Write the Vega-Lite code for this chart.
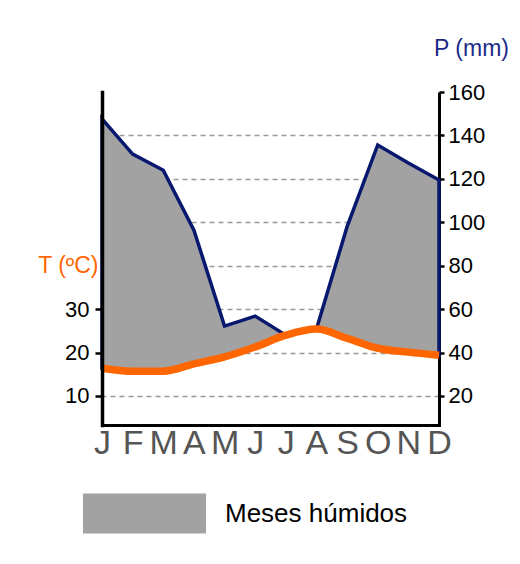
{
  "$schema": "https://vega.github.io/schema/vega-lite/v6.json",
  "width": 337,
  "height": 333,
  "autosize": {"type": "none"},
  "padding": {"left": 102, "top": 92, "right": 81, "bottom": 139},
  "background": "white",
  "config": {"view": {"stroke": null}, "font": "Liberation Sans"},
  "data": {
    "values": [
      {"mes": "Jan", "P": 147.6, "T": 16.4},
      {"mes": "Feb", "P": 131.4, "T": 15.7},
      {"mes": "Mar", "P": 124.0, "T": 15.7},
      {"mes": "Apr", "P": 96.4, "T": 17.4},
      {"mes": "May", "P": 52.2, "T": 19.0},
      {"mes": "Jun", "P": 56.8, "T": 21.3},
      {"mes": "Jul", "P": 40.0, "T": 24.0},
      {"mes": "Aug", "P": 48.0, "T": 25.4},
      {"mes": "Sep", "P": 98.0, "T": 23.3},
      {"mes": "Oct", "P": 135.6, "T": 21.0},
      {"mes": "Nov", "P": 127.3, "T": 20.1},
      {"mes": "Dec", "P": 119.5, "T": 19.4}
    ]
  },
  "transform": [
    {"calculate": "datum.T * 2", "as": "T2"},
    {"calculate": "max(datum.P, datum.T * 2)", "as": "Ph"}
  ],
  "encoding": {
    "x": {
      "field": "mes",
      "type": "ordinal",
      "sort": ["Jan", "Feb", "Mar", "Apr", "May", "Jun", "Jul", "Aug", "Sep", "Oct", "Nov", "Dec"],
      "scale": {"type": "point", "padding": 0},
      "axis": {
        "title": null,
        "labelExpr": "slice(datum.value, 0, 1)",
        "labelAngle": 0,
        "labelOverlap": false,
        "ticks": false,
        "domainColor": "black",
        "domainWidth": 3,
        "domainCap": "square",
        "labelFont": "Liberation Sans",
        "labelFontSize": 34,
        "labelColor": "#555555",
        "labelPadding": 1,
        "zindex": 1
      }
    }
  },
  "layer": [
    {
      "mark": {"type": "area", "stroke": "#08186e", "strokeWidth": 3.5},
      "encoding": {
        "y": {
          "field": "Ph",
          "type": "quantitative",
          "scale": {"domain": [6.64, 160], "nice": false, "zero": false},
          "axis": {
            "orient": "right",
            "values": [20, 40, 60, 80, 100, 120, 140, 160],
            "grid": true,
            "gridDash": [5, 4],
            "gridColor": "#999999",
            "gridWidth": 1.5,
            "gridOpacity": {"condition": {"test": "datum.value == 160", "value": 0}, "value": 1},
            "domainColor": "black",
            "domainWidth": 3,
            "tickColor": "black",
            "tickWidth": 2.5,
            "tickSize": 5,
            "labelFontSize": 22,
            "labelColor": "black",
            "labelPadding": 4,
            "title": "P (mm)",
            "titleColor": "#1a2b87",
            "titleFontSize": 23,
            "titleFontWeight": "normal",
            "titleAngle": 0,
            "titleX": 32,
            "titleY": -44,
            "titleAlign": "center",
            "titleBaseline": "middle",
            "zindex": 0
          }
        },
        "y2": {"field": "T2"},
        "fill": {
          "datum": "Meses húmidos",
          "type": "nominal",
          "scale": {"range": ["#a2a2a2"]},
          "legend": {
            "orient": "none",
            "legendX": -19,
            "legendY": 360,
            "title": null,
            "symbolType": "M-1,-0.325H1V0.325H-1Z",
            "symbolSize": 15129,
            "symbolStrokeWidth": 0,
            "symbolOpacity": 1,
            "labelFont": "Liberation Sans",
            "labelFontSize": 26,
            "labelLimit": 0,
            "labelColor": "black",
            "labelOffset": 19,
            "padding": 0
          }
        }
      }
    },
    {
      "mark": {"type": "line", "color": "#ff6600", "strokeWidth": 7.5, "interpolate": "monotone"},
      "encoding": {
        "y": {
          "field": "T",
          "type": "quantitative",
          "scale": {"domain": [3.32, 80], "nice": false, "zero": false},
          "axis": {
            "orient": "left",
            "values": [10, 20, 30],
            "grid": false,
            "domainColor": "black",
            "domainWidth": 3.5,
            "domainCap": "square",
            "tickColor": "black",
            "tickWidth": 2.5,
            "tickSize": 7,
            "labelFontSize": 22,
            "labelColor": "black",
            "labelPadding": 6,
            "title": "T (ºC)",
            "titleColor": "#ff6600",
            "titleFontSize": 23,
            "titleFontWeight": "normal",
            "titleAngle": 0,
            "titleX": -4,
            "titleY": 173,
            "titleAlign": "right",
            "titleBaseline": "middle",
            "zindex": 1
          }
        }
      }
    }
  ],
  "resolve": {"scale": {"y": "independent"}}
}
